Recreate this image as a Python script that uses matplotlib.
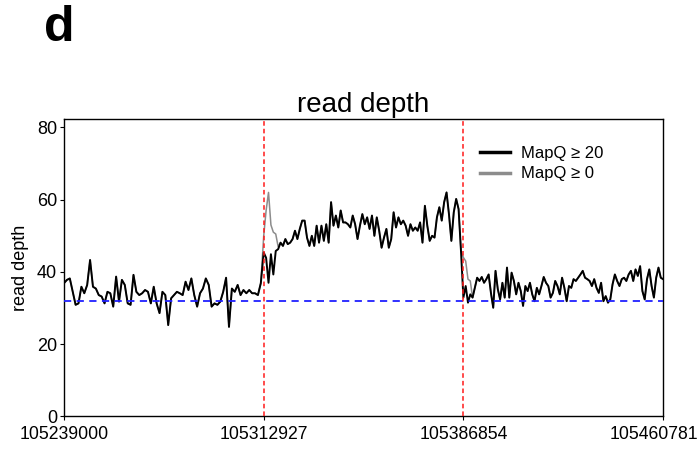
import numpy as np
import matplotlib
matplotlib.use('Agg')
import matplotlib.pyplot as plt
import matplotlib.transforms as mtransforms
from matplotlib.lines import Line2D

plt.rcParams['font.family'] = ['Liberation Sans', 'DejaVu Sans']

# region boundaries (bp)
bounds = [105239000, 105312927, 105386854, 105460781]
tick_labels = ['105239000', '105312927', '105386854', '105460781']
baseline = 32

# MapQ >= 20 depth, one list per region
left_depth = [36.9, 37.8, 38.2, 34.5, 30.9, 31.3, 35.9, 34.1, 36.4, 43.3, 35.9, 35.4,
              33.6, 33.2, 31.3, 34.5, 34.1, 30.4, 38.7, 31.8, 37.8, 36.4, 31.3, 30.9,
              39.2, 34.5, 33.6, 34.1, 35.0, 34.5, 31.3, 35.9, 31.3, 28.6, 34.5, 33.6,
              25.3, 32.7, 33.6, 34.5, 34.1, 33.6, 37.3, 35.0, 38.2, 33.6, 30.4, 34.1,
              35.4, 38.2, 36.4, 30.4, 31.3, 30.9, 31.8, 34.5, 38.4, 24.8, 35.4, 34.5,
              36.4, 33.6, 35.0, 34.1, 35.0, 34.1, 34.1, 33.6, 36.9]
mid_depth = [45.4, 43.9, 37.0, 44.9, 39.3, 45.8, 46.3, 48.1, 47.2, 49.1, 47.7, 48.1,
             49.1, 51.4, 49.1, 51.9, 54.2, 54.2, 49.5, 47.2, 50.0, 47.2, 52.8, 48.1,
             52.8, 48.6, 53.2, 48.1, 59.3, 52.8, 55.6, 52.3, 57.0, 53.7, 53.7, 53.2,
             52.3, 55.6, 53.2, 49.1, 52.8, 56.0, 53.2, 55.1, 51.9, 55.6, 50.0, 55.1,
             51.4, 46.7, 49.5, 51.9, 46.7, 49.1, 56.5, 52.3, 55.1, 53.2, 54.2, 52.8,
             50.0, 53.2, 51.4, 52.3, 51.4, 53.7, 48.1, 58.3, 52.8, 48.6, 50.0, 49.5,
             55.1, 57.9, 54.2, 59.3, 62.0, 56.0, 48.6, 56.5, 60.2, 57.4, 45.8]
right_depth = [32.9, 36.1, 31.5, 33.8, 32.9, 35.6, 38.4, 37.5, 38.6, 37.0, 38.0, 39.3,
               34.2, 30.1, 40.3, 35.2, 32.4, 37.0, 32.9, 41.2, 32.9, 39.8, 37.5, 33.8,
               37.0, 34.7, 30.6, 36.1, 34.7, 37.0, 33.8, 31.9, 35.6, 33.8, 36.1, 38.6,
               37.0, 36.1, 32.9, 34.2, 37.5, 36.1, 33.8, 38.4, 35.6, 31.9, 36.1, 35.6,
               38.0, 37.5, 38.4, 39.3, 40.3, 38.4, 38.0, 37.5, 36.1, 38.0, 35.6, 34.2,
               37.0, 31.9, 33.3, 31.5, 32.4, 36.6, 39.3, 37.5, 36.1, 38.0, 38.4, 37.5,
               39.3, 40.3, 37.5, 40.7, 38.9, 41.6, 34.7, 32.4, 38.0, 40.7, 36.1, 32.9,
               38.4, 41.2, 38.4, 38.0]

# MapQ >= 0 only differs right after each breakpoint
mid_q0_start = [50.0, 57.0, 62.0, 53.0, 51.0, 50.5, 47.0]
right_q0_start = [44.0, 43.0, 38.0, 37.5]

xs = np.concatenate([
    np.linspace(bounds[0], bounds[1], len(left_depth), endpoint=False),
    np.linspace(bounds[1], bounds[2], len(mid_depth), endpoint=False),
    np.linspace(bounds[2], bounds[3], len(right_depth)),
])
mapq20 = np.array(left_depth + mid_depth + right_depth)
mapq0 = mapq20.copy()
i_mid = len(left_depth)
i_right = len(left_depth) + len(mid_depth)
mapq0[i_mid:i_mid + len(mid_q0_start)] = mid_q0_start
mapq0[i_right:i_right + len(right_q0_start)] = right_q0_start

fig = plt.figure(figsize=(6.99, 4.62), dpi=100, facecolor='w')
ax = fig.add_axes([0.0916, 0.0985, 0.857, 0.643])

ax.plot(xs, mapq0, color='#8c8c8c', lw=1.1, zorder=2)
ax.plot(xs, mapq20, color='black', lw=1.4, zorder=3)
ax.axhline(baseline, color='#2020ff', ls=(0, (4, 3)), lw=1.3, zorder=4)
for b in bounds[1:3]:
    ax.axvline(b, color='#ff1a1a', ls=(0, (3, 2)), lw=1.1, zorder=5)

ax.set_xlim(bounds[0], bounds[3])
ax.set_ylim(0, 82.2)
ax.set_xticks(bounds)
ax.set_xticklabels(tick_labels, fontsize=12.7)
ax.set_yticks([0, 20, 40, 60, 80])
ax.tick_params(axis='y', labelsize=13, length=3, pad=2)
ax.tick_params(axis='x', length=3, pad=4)
for s in ax.spines.values():
    s.set_linewidth(1.0)

# last x label is pushed left so it stays inside the picture
last = ax.get_xticklabels()[-1]
last.set_horizontalalignment('right')
last.set_transform(last.get_transform() +
                   mtransforms.ScaledTranslation(0.35, 0, fig.dpi_scale_trans))

ax.set_ylabel('read depth', fontsize=13, labelpad=6)
ax.set_title('read depth', fontsize=20, pad=5)

handles = [Line2D([], [], color='black', lw=2.5),
           Line2D([], [], color='#8c8c8c', lw=2.5)]
ax.legend(handles, ['MapQ \u2265 20', 'MapQ \u2265 0'], loc='upper left',
          frameon=False, fontsize=12, handlelength=1.8, handletextpad=0.7,
          labelspacing=0.35, borderpad=0, borderaxespad=0,
          bbox_to_anchor=(0.694, 0.912))

fig.text(0.063, 0.94, 'd', fontsize=36, fontweight='bold', ha='left', va='center')

plt.savefig('out.png', dpi=100)
